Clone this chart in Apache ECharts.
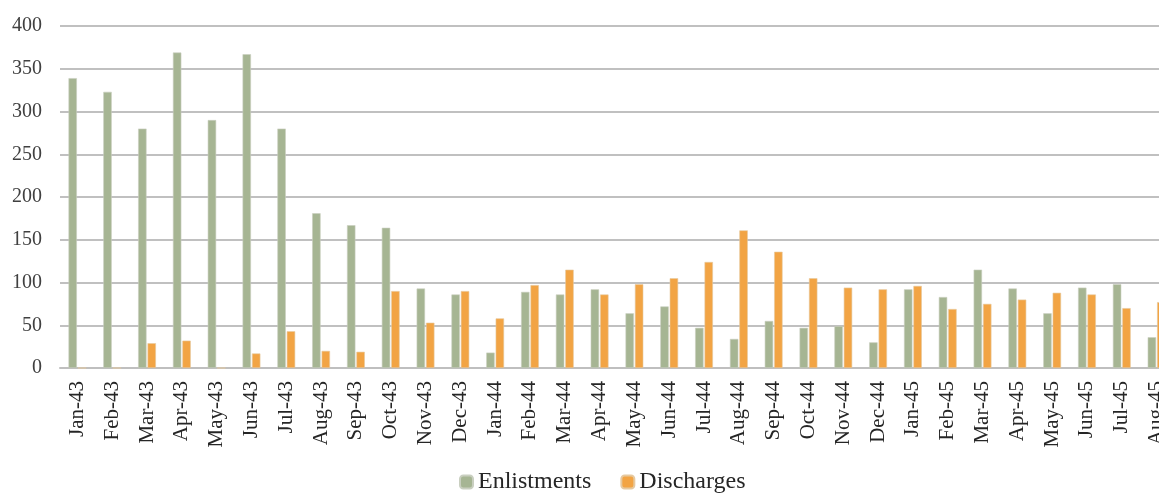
<!DOCTYPE html>
<html>
<head>
<meta charset="utf-8">
<script src="https://cdn.jsdelivr.net/npm/echarts@6/dist/echarts.min.js"></script>
<style>
html,body{margin:0;padding:0;background:#fff;}
#chart{width:1159px;height:494px;}
</style>
</head>
<body>
<div id="chart"></div>
<script>
var categories = ['Jan-43','Feb-43','Mar-43','Apr-43','May-43','Jun-43','Jul-43','Aug-43','Sep-43','Oct-43','Nov-43','Dec-43',
  'Jan-44','Feb-44','Mar-44','Apr-44','May-44','Jun-44','Jul-44','Aug-44','Sep-44','Oct-44','Nov-44','Dec-44',
  'Jan-45','Feb-45','Mar-45','Apr-45','May-45','Jun-45','Jul-45','Aug-45'];
var enlistments = [339,323,280,369,290,367,280,181,167,164,93,86,18,89,86,92,64,72,47,34,55,47,49,30,92,83,115,93,64,94,98,36];
var discharges = [0,0,29,32,0,17,43,20,19,90,53,90,58,97,115,86,98,105,124,161,136,105,94,92,96,69,75,80,88,86,70,77];
var yTicks = { min: 0, max: 400, interval: 50 };

var FONT = '"Liberation Serif", "Times New Roman", serif';
var chart = echarts.init(document.getElementById('chart'), null, { renderer: 'canvas' });
chart.setOption({
  animation: false,
  backgroundColor: '#ffffff',
  grid: { left: 60, width: 1114, top: 26, bottom: 126, containLabel: false, outerBoundsMode: 'none' },
  legend: {
    left: 454, top: 465,
    itemWidth: 13, itemHeight: 13, itemGap: 29,
    textStyle: { fontFamily: FONT, fontSize: 24, color: '#262626' },
    data: ['Enlistments', 'Discharges']
  },
  xAxis: {
    type: 'category',
    data: categories,
    axisLine: { show: true, lineStyle: { color: '#bfbfbf', width: 2 } },
    axisTick: { show: false },
    axisLabel: { rotate: 90, interval: 0, margin: 13, fontFamily: FONT, fontSize: 21, color: '#262626' }
  },
  yAxis: {
    type: 'value',
    min: yTicks.min, max: yTicks.max, interval: yTicks.interval,
    axisLine: { show: false },
    axisTick: { show: false },
    axisLabel: { margin: 18, fontFamily: FONT, fontSize: 20, color: '#404040' },
    splitLine: { lineStyle: { color: '#c0c0c0', width: 2 } }
  },
  series: [
    {
      name: 'Enlistments', type: 'bar', data: enlistments,
      barWidth: 8.4, barGap: '12%',
      itemStyle: { color: '#a6b593', borderColor: '#c9cfc0', borderWidth: 0.6 }
    },
    {
      name: 'Discharges', type: 'bar', data: discharges,
      barWidth: 8.4,
      itemStyle: { color: '#f2a444', borderColor: '#e6c9a0', borderWidth: 0.6 }
    }
  ]
});
</script>
</body>
</html>
